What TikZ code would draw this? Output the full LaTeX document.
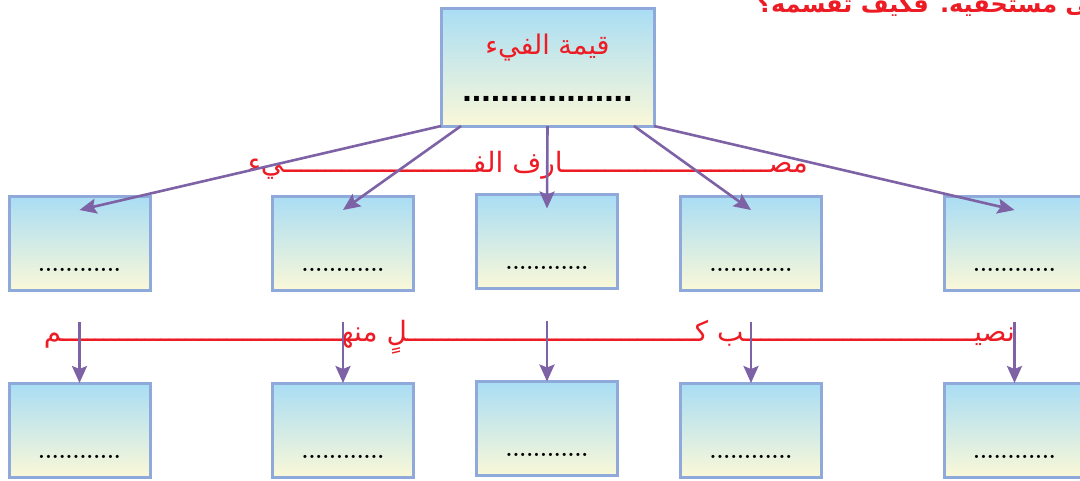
\documentclass[tikz,border=0pt]{standalone}
\usepackage{fontspec}
\newfontfamily\arabicfont[Script=Arabic]{DejaVu Sans}
\newfontfamily\dotfont{Liberation Sans}
\TeXXeTstate=1
\usetikzlibrary{arrows.meta}
\usetikzlibrary{positioning}
\definecolor{boxtop}{HTML}{A9DDF4}
\definecolor{boxbot}{HTML}{FAF8D8}
\definecolor{boxline}{HTML}{8FAADA}
\definecolor{arrowpurple}{HTML}{7E62A6}
\definecolor{titlered}{HTML}{ED1C24}
\tikzstyle{topbox} = [rectangle, minimum width=213pt, minimum height=118pt, outer sep=0pt,
draw=boxline, line width=3pt, top color=boxtop, bottom color=boxbot]
\tikzstyle{share} = [rectangle, minimum width=141pt, minimum height=94pt, outer sep=0pt,
draw=boxline, line width=3pt, top color=boxtop, bottom color=boxbot]
\tikzstyle{arrow} = [line width=2.6pt, draw=arrowpurple, -{Stealth[length=17pt, width=15pt, inset=3pt]}]
\tikzstyle{redtext} = [text=titlered, inner sep=0pt, font=\arabicfont\fontsize{28}{32}\selectfont]
\tikzstyle{dotline} = [inner sep=0pt, anchor=base, font=\bfseries\fontsize{22}{22}\selectfont]
% repeated tatweel
\def\kash#1{\ifnum#1>0 ـ\expandafter\kash\expandafter{\the\numexpr#1-1\relax}\fi}

\begin{document}
\begin{tikzpicture}[x=1pt, y=-1pt]
  \useasboundingbox (0,0) rectangle (1080,480);
  \clip (0,0) rectangle (1080,480);

  \node (question) [redtext, anchor=base west, font=\arabicfont\bfseries\fontsize{24}{28}\selectfont] at (757,12)
  {\beginR على مستحقيه. فكيف تقسمه؟\endR};

  % top box
  \node (fay) [topbox] at (547.5,67) {};
  \node (faytitle) [redtext, anchor=base, font=\arabicfont\fontsize{27}{31}\selectfont] at ([yshift=-46pt]fay.north)
  {\beginR قيمة الفيء\endR};
  \node (faydots) [inner sep=0pt, anchor=base, font=\dotfont\bfseries\fontsize{34}{34}\selectfont]
  at ([yshift=25pt]fay.south) {..................};

  % first row
  \node (b1) [share] at (79.5,243) {};
  \node (b2) [share, right=122.5pt of b1] {};
  \node (b3) [share, right=63pt of b2, yshift=1.5pt] {};
  \node (b4) [share, right=63pt of b3, yshift=-1.5pt] {};
  \node (b5) [share, right=122.5pt of b4] {};

  % second row
  \node (c1) [share, below=93pt of b1] {};
  \node (c2) [share, below=93pt of b2] {};
  \node (c3) [share, below=93pt of b3] {};
  \node (c4) [share, below=93pt of b4] {};
  \node (c5) [share, below=93pt of b5] {};

  \foreach \i in {1,...,5} {
    \node (bdots\i) [dotline] at ([yshift=19pt]b\i.south) {............};
    \node (cdots\i) [dotline] at ([yshift=19pt]c\i.south) {............};
  }

  % red lines
  \node (spend) [redtext, anchor=base east] at (808,172)
  {\beginR مص\kash{25}ارف الف\kash{23}يء\endR};
  \node (portion) [redtext, anchor=base east] at (1015,341)
  {\beginR نصي\kash{28}ب ك\kash{35}لٍ منه\kash{34}م\endR};

  \draw[arrow] (fay.south west) -- ([yshift=-14pt]b1.north);
  \draw[arrow] ([xshift=20pt]fay.south west) -- ([yshift=-14pt]b2.north);
  \draw[arrow] (fay.south) -- ([yshift=-14pt]b3.north);
  \draw[arrow] ([xshift=-20pt]fay.south east) -- ([yshift=-14pt]b4.north);
  \draw[arrow] (fay.south east) -- ([yshift=-14pt]b5.north);

  \foreach \i in {1,...,5} {
    \coordinate (s\i) at ([yshift=61pt]c\i.north);
    \draw[arrow] (s\i) -- (c\i.north);
  }
\end{tikzpicture}
\end{document}
